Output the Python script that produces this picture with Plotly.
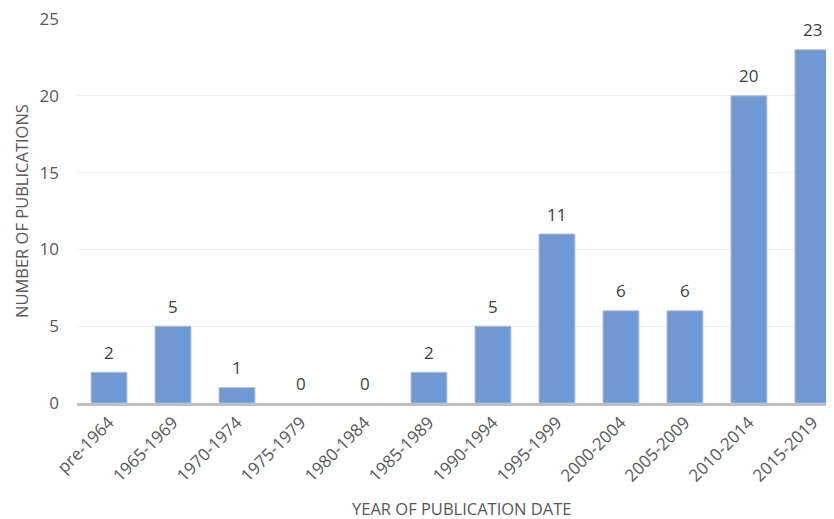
import plotly.graph_objects as go

categories = ["pre-1964", "1965-1969", "1970-1974", "1975-1979", "1980-1984", "1985-1989",
              "1990-1994", "1995-1999", "2000-2004", "2005-2009", "2010-2014", "2015-2019"]
publications = [2, 5, 1, 0, 0, 2, 5, 11, 6, 6, 20, 23]
y_ticks = [0, 5, 10, 15, 20, 25]

FONT = "Open Sans"
TXT = "#595959"

fig = go.Figure()
fig.add_trace(go.Bar(
    x=categories, y=publications,
    marker=dict(color="#7098d3",
                line=dict(color="#a8c0ea", width=[1 if v > 0 else 0 for v in publications])),
    width=0.56,
    hoverinfo="x+y",
))

for c, v in zip(categories, publications):
    fig.add_annotation(x=c, y=v, text=str(v), showarrow=False, yanchor="middle",
                       yshift=20, font=dict(family=FONT, size=17, color="#404040"))

fig.add_annotation(x=0.509, y=0, xref="paper", yref="paper", yshift=-105, yanchor="middle",
                   xanchor="center",
                   text="YEAR OF PUBLICATION DATE", showarrow=False,
                   font=dict(family=FONT, size=16.5, color=TXT))

fig.add_annotation(x=0, y=0.5, xref="paper", yref="paper", xshift=-56, textangle=-90,
                   xanchor="center", yanchor="middle",
                   text="NUMBER OF PUBLICATIONS", showarrow=False,
                   font=dict(family=FONT, size=16.5, color=TXT))

fig.update_layout(
    width=826, height=511,
    margin=dict(l=69, r=0, t=11, b=116),
    plot_bgcolor="white", paper_bgcolor="white",
    showlegend=False,
    xaxis=dict(range=[-0.5, 11.33], tickangle=-45, showline=True, linecolor="#bfbfbf",
               linewidth=3, showgrid=False, ticks="",
               tickfont=dict(family=FONT, size=17, color=TXT)),
    yaxis=dict(range=[0, 25], tickvals=y_ticks, showgrid=True, gridcolor="#ededed",
               gridwidth=1, zeroline=False, ticks="", ticklabelstandoff=17,
               ticklabeloverflow="allow",
               tickfont=dict(family=FONT, size=17, color=TXT)),
)

fig.write_html("out.html")
